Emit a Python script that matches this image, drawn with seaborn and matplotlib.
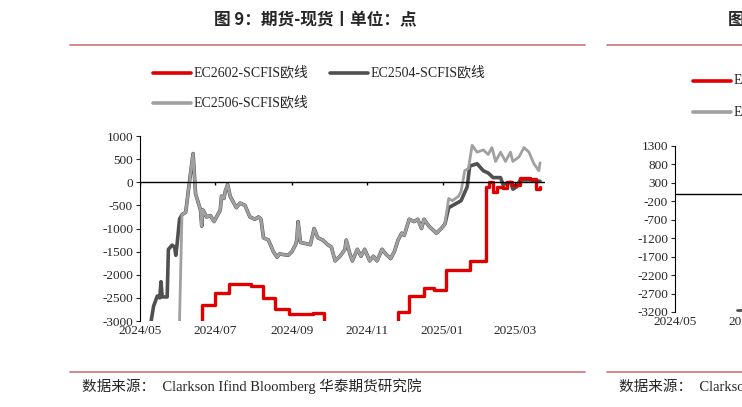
import numpy as np
import pandas as pd
import seaborn as sns
import matplotlib.pyplot as plt
import matplotlib.dates as mdates
from matplotlib.lines import Line2D

sns.set_style('white')
plt.rcParams['font.family'] = ['Liberation Serif', 'Noto Sans CJK SC']
plt.rcParams['axes.unicode_minus'] = False

# ---- data ----
ec2506_dates = ['2024-06-02', '2024-06-04', '2024-06-07', '2024-06-10', '2024-06-13', '2024-06-15',
                '2024-06-19', '2024-06-20', '2024-06-21', '2024-06-24', '2024-06-27', '2024-06-30',
                '2024-07-02', '2024-07-05', '2024-07-06', '2024-07-08', '2024-07-09', '2024-07-11',
                '2024-07-13', '2024-07-15', '2024-07-18', '2024-07-21', '2024-07-25', '2024-07-29',
                '2024-08-02', '2024-08-05', '2024-08-07', '2024-08-09', '2024-08-13', '2024-08-17',
                '2024-08-20', '2024-08-22', '2024-08-29', '2024-09-01', '2024-09-04', '2024-09-05',
                '2024-09-06', '2024-09-08', '2024-09-16', '2024-09-19', '2024-09-22', '2024-09-26',
                '2024-09-30', '2024-10-03', '2024-10-06', '2024-10-10', '2024-10-14', '2024-10-15',
                '2024-10-18', '2024-10-20', '2024-10-24', '2024-10-27', '2024-10-30', '2024-11-03',
                '2024-11-06', '2024-11-09', '2024-11-13', '2024-11-16', '2024-11-20', '2024-11-23',
                '2024-11-26', '2024-11-29', '2024-12-01', '2024-12-05', '2024-12-09', '2024-12-12',
                '2024-12-15', '2024-12-17', '2024-12-21', '2024-12-27', '2024-12-31', '2025-01-03',
                '2025-01-06', '2025-01-09', '2025-01-14', '2025-01-16', '2025-01-19', '2025-01-22',
                '2025-01-25', '2025-01-29', '2025-02-03', '2025-02-07', '2025-02-10', '2025-02-13',
                '2025-02-17', '2025-02-21', '2025-02-25', '2025-02-27', '2025-03-04', '2025-03-08',
                '2025-03-12', '2025-03-16', '2025-03-20', '2025-03-21']
ec2506_values = [-3000, -700, -650, 0, 620, -250,
                 -600, -950, -600, -750, -720, -850,
                 -750, -600, -300, -350, -200, -50,
                 -300, -400, -550, -450, -500, -750,
                 -800, -750, -800, -1200, -1250, -1500,
                 -1620, -1550, -1580, -1500, -1350, -1250,
                 -850, -1300, -1350, -1000, -1200, -1250,
                 -1350, -1400, -1700, -1600, -1450, -1250,
                 -1550, -1700, -1450, -1600, -1450, -1700,
                 -1600, -1700, -1450, -1550, -1650, -1500,
                 -1250, -1100, -1150, -800, -850, -800,
                 -1000, -800, -950, -1100, -1000, -900,
                 -350, -400, -300, -200, 250, 300,
                 800, 650, 700, 600, 750, 450,
                 650, 450, 650, 450, 550, 750,
                 650, 400, 250, 420]

ec2504_early_dates = ['2024-05-10', '2024-05-12', '2024-05-15', '2024-05-17', '2024-05-18', '2024-05-19',
                      '2024-05-23', '2024-05-24', '2024-05-27', '2024-05-29', '2024-05-30', '2024-05-31',
                      '2024-06-02', '2024-06-04', '2024-06-07']
ec2504_early_values = [-3000, -2680, -2460, -2500, -2150, -2480,
                       -2480, -1450, -1360, -1400, -1580, -1350,
                       -800, -700, -650]
ec2504_late_dates = ['2025-01-06', '2025-01-16', '2025-01-21', '2025-01-23', '2025-01-29', '2025-02-03',
                     '2025-02-07', '2025-02-11', '2025-02-17', '2025-02-19', '2025-02-25', '2025-02-27',
                     '2025-03-02', '2025-03-05', '2025-03-13', '2025-03-21']
ec2504_late_values = [-550, -400, -100, 350, 400, 250,
                      200, 100, 100, -50, 0, -150,
                      -100, 50, 50, 20]

ec2602_dates = ['2024-06-20', '2024-06-20', '2024-07-01', '2024-07-12', '2024-07-30', '2024-08-09',
                '2024-08-18', '2024-08-30', '2024-09-18', '2024-09-27', '2024-10-05', '2024-11-23',
                '2024-11-26', '2024-12-05', '2024-12-17', '2024-12-25', '2025-01-04', '2025-01-23',
                '2025-02-03', '2025-02-05', '2025-02-08', '2025-02-11', '2025-02-14', '2025-02-19',
                '2025-02-22', '2025-02-26', '2025-03-05', '2025-03-13', '2025-03-18', '2025-03-21']
ec2602_values = [-3100, -2650, -2400, -2200, -2250, -2500,
                 -2750, -2850, -2820, -3050, -3300, -3100,
                 -2800, -2450, -2280, -2330, -1900, -1700,
                 -1700, -100, 0, -200, -100, -120,
                 0, -50, 100, 80, -150, -100]

right_dates = ['2024-06-20', '2024-06-28', '2024-06-29', '2024-07-05']
right_values = [-3150, -3150, -2750, -2750]

x_ticks = ['2024-05-01', '2024-07-01', '2024-09-01', '2024-11-01', '2025-01-01', '2025-03-01']


def series(dates, values, name):
    return pd.DataFrame({'date': pd.to_datetime(dates), 'value': values, 'name': name})


middle = series(ec2506_dates, ec2506_values, 'EC2506')
mid_2504 = middle[(middle.date > '2024-06-07') & (middle.date < '2025-01-06')].copy()
df2504 = pd.concat([series(ec2504_early_dates, ec2504_early_values, 'EC2504'),
                    mid_2504.assign(name='EC2504'),
                    series(ec2504_late_dates, ec2504_late_values, 'EC2504')])
df2602 = series(ec2602_dates, ec2602_values, 'EC2602')

W, H = 742, 407
fig = plt.figure(figsize=(W / 100, H / 100), dpi=100)


def box(l, t, r, b):
    return [l / W, 1 - b / H, (r - l) / W, (b - t) / H]


RED = '#e00000'
DARK = '#505050'
LIGHT = '#a0a0a0'

ax = fig.add_axes(box(140, 136, 545, 321))
sns.lineplot(data=df2504, x='date', y='value', ax=ax, color=DARK, lw=2.6, zorder=1)
sns.lineplot(data=middle, x='date', y='value', ax=ax, color=LIGHT, lw=2.0, zorder=2)
ax.plot(df2602.date, df2602.value, color=RED, lw=2.4, drawstyle='steps-post', zorder=3)
ax.set_xlim(pd.Timestamp('2024-05-01'), pd.Timestamp('2025-03-25'))
ax.set_ylim(-3000, 1000)
ax.set_yticks(np.arange(-3000, 1001, 500))
ax.axhline(0, color='black', lw=1, zorder=4)
tick_pos = pd.to_datetime(x_ticks)
ax.vlines(tick_pos, -70, 0, color='black', lw=1, zorder=4)
ax.set_xticks(tick_pos)
ax.xaxis.set_major_formatter(mdates.DateFormatter('%Y/%m'))
for s in ['top', 'right', 'bottom']:
    ax.spines[s].set_visible(False)
ax.spines['left'].set_color('black')
ax.tick_params(axis='y', length=3, direction='out', left=True, labelsize=9.5, pad=2)
ax.tick_params(axis='x', length=0, labelsize=9.5, pad=3)
ax.set_xlabel('')
ax.set_ylabel('')

# right partial panel
ax2 = fig.add_axes(box(675, 146, 1080, 312))
ax2.plot(pd.to_datetime(right_dates), right_values, color=DARK, lw=2)
ax2.set_xlim(pd.Timestamp('2024-05-01'), pd.Timestamp('2025-03-25'))
ax2.set_ylim(-3200, 1300)
ax2.set_yticks(np.arange(-3200, 1301, 500))
ax2.axhline(0, color='black', lw=1)
ax2.set_xticks(tick_pos)
ax2.xaxis.set_major_formatter(mdates.DateFormatter('%Y/%m'))
for s in ['top', 'right', 'bottom']:
    ax2.spines[s].set_visible(False)
ax2.spines['left'].set_color('black')
ax2.tick_params(axis='y', length=3, direction='out', left=True, labelsize=9.5, pad=2)
ax2.tick_params(axis='x', length=0, labelsize=9.5, pad=3)

# titles, rules, legends
fig.text(315 / W, 1 - 20 / H, '图 9：期货-现货丨单位：点', ha='center', va='center',
         fontsize=12, fontweight='bold', family=['Noto Sans CJK SC'])
fig.text(728 / W, 1 - 20 / H, '图', ha='left', va='center', fontsize=12, fontweight='bold',
         family=['Noto Sans CJK SC'])
for x0, x1 in [(70, 585), (607, 742)]:
    fig.add_artist(Line2D([x0 / W, x1 / W], [1 - 45 / H] * 2, color='#d08080', lw=1.3))
    fig.add_artist(Line2D([x0 / W, x1 / W], [1 - 372 / H] * 2, color='#d08080', lw=1.3))

legend_items = [(153, 73, RED, 'EC2602-SCFIS欧线'), (330, 73, DARK, 'EC2504-SCFIS欧线'),
                (153, 103, LIGHT, 'EC2506-SCFIS欧线'), (693, 81, RED, 'EC'), (693, 112, LIGHT, 'EC')]
for x, y, c, label in legend_items:
    fig.add_artist(Line2D([x / W, (x + 38) / W], [1 - y / H] * 2, color=c, lw=2.6))
    fig.text((x + 41) / W, 1 - y / H, label, ha='left', va='center', fontsize=10)

fig.text(82 / W, 1 - 386 / H, '数据来源：  Clarkson Ifind Bloomberg 华泰期货研究院', ha='left', va='center',
         fontsize=10.5)
fig.text(619 / W, 1 - 386 / H, '数据来源：  Clarkson Ifind Bloomberg 华泰期货研究院', ha='left', va='center',
         fontsize=10.5)

fig.savefig('out.png', dpi=100)
